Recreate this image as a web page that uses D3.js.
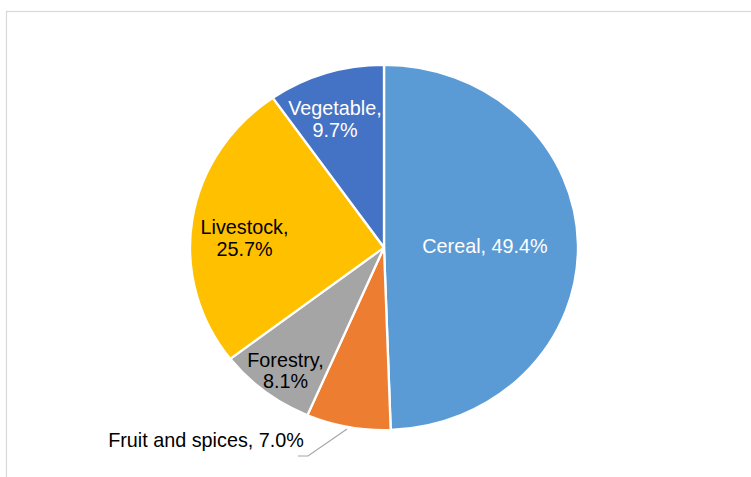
<!DOCTYPE html>
<html>
<head>
<meta charset="utf-8">
<script src="https://cdn.jsdelivr.net/npm/d3@7"></script>
<style>
  html, body { margin: 0; padding: 0; background: #fff; }
  svg { display: block; }
  text { font-family: "Liberation Sans", Arial, sans-serif; }
</style>
</head>
<body>
<svg id="chart" width="751" height="477"></svg>
<script>
// Agricultural output shares (%)
const categories = ["Cereal", "Fruit and spices", "Forestry", "Livestock", "Vegetable"];
const shares = [49.4, 7.0, 8.1, 25.7, 9.7];
const colors = ["#5B9BD5", "#ED7D31", "#A5A5A5", "#FFC000", "#4472C4"];
const labelColors = ["#ffffff", "#000000", "#000000", "#000000", "#ffffff"];

const svg = d3.select("#chart");
const W = 751, H = 477;

// chart area frame
svg.append("rect")
  .attr("x", 6.5).attr("y", 11.5)
  .attr("width", W + 10).attr("height", H + 10)
  .attr("fill", "#fff")
  .attr("stroke", "#d9d9d9").attr("stroke-width", 1.2);

const cx = 384, cy = 247.5;
const r = 182.5, sx = 194 / 182.5;

const data = categories.map((c, i) => ({ name: c, value: shares[i], color: colors[i], lc: labelColors[i] }));

const pie = d3.pie().value(d => d.value).sort(null);
const arcs = pie(data);
const arc = d3.arc().innerRadius(0).outerRadius(r);

const g = svg.append("g").attr("transform", `translate(${cx},${cy}) scale(${sx},1)`);
g.selectAll("path").data(arcs).join("path")
  .attr("d", arc)
  .attr("fill", d => d.data.color)
  .attr("stroke", "#fff")
  .attr("stroke-width", 2.2)
  .attr("stroke-linejoin", "round");

// label placements relative to the pie centre (text lines, baselines)
const labelPos = {
  "Cereal":           { x: 101,  y: 5,      lines: [d => `Cereal, ${d.value.toFixed(1)}%`] },
  "Vegetable":        { x: -49,  y: -132.5, lines: [d => "Vegetable,", d => `${d.value.toFixed(1)}%`] },
  "Livestock":        { x: -139.5, y: -13.5, lines: [d => "Livestock,", d => `${d.value.toFixed(1)}%`] },
  "Forestry":         { x: -98.5, y: 119,   lines: [d => "Forestry,", d => `${d.value.toFixed(1)}%`] },
  "Fruit and spices": { x: -178, y: 199.5,  lines: [d => `Fruit and spices, ${d.value.toFixed(1)}%`] }
};

const lg = svg.append("g").attr("transform", `translate(${cx},${cy})`);

// leader line for the small orange slice
lg.append("polyline")
  .attr("points", [[-37, 181.5], [-76, 208.5], [-86, 208.5]].map(p => p.join(",")).join(" "))
  .attr("fill", "none")
  .attr("stroke", "#a6a6a6")
  .attr("stroke-width", 1.2);

arcs.forEach(a => {
  const lp = labelPos[a.data.name];
  const t = lg.append("text")
    .attr("text-anchor", "middle")
    .attr("font-size", "19.8px")
    .attr("fill", a.data.lc);
  lp.lines.forEach((fn, i) => {
    t.append("tspan")
      .attr("x", lp.x)
      .attr("y", lp.y + i * 21.5)
      .text(fn(a.data));
  });
});
</script>
</body>
</html>
